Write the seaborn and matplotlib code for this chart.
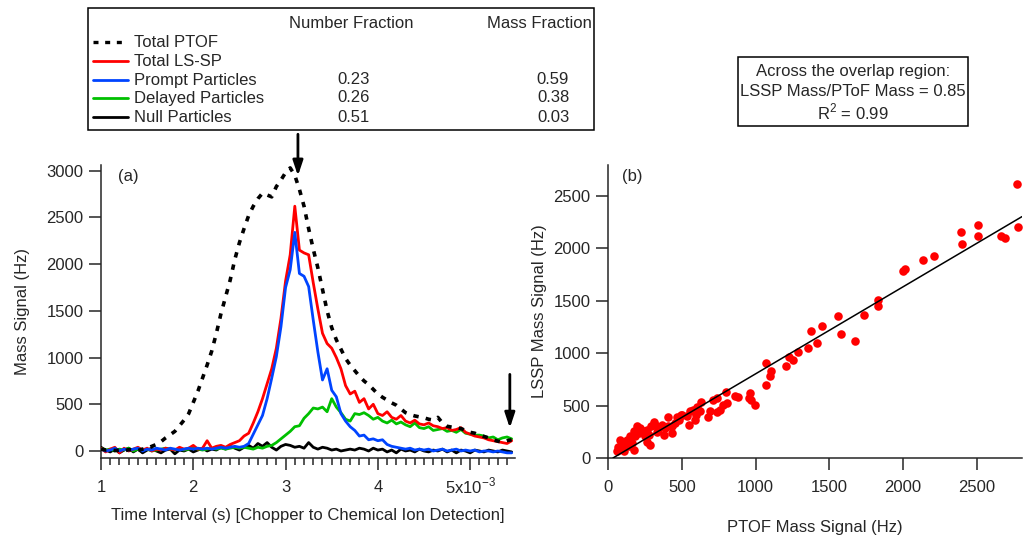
import numpy as np
import pandas as pd
import matplotlib
matplotlib.use("Agg")
import matplotlib.pyplot as plt
import matplotlib.transforms as mtransforms
from matplotlib.lines import Line2D
from matplotlib.patches import Rectangle
from matplotlib.ticker import MultipleLocator, FixedLocator, FixedFormatter
import seaborn as sns

# ---------------- data ----------------
time_ms = [round(1.0 + 0.05 * i, 2) for i in range(90)]

ptof = [20, 10, 15, 5, 10, 0, 15, 10, 5, 20,
        30, 50, 70, 100, 140, 175, 210, 270, 330, 400,
        520, 640, 780, 920, 1070, 1260, 1470, 1650, 1830, 2050,
        2230, 2380, 2520, 2620, 2700, 2760, 2740, 2720, 2830, 2900,
        2980, 3030, 2950, 2800, 2620, 2380, 2160, 1960, 1730, 1500,
        1320, 1190, 1090, 990, 920, 860, 800, 750, 710, 660,
        610, 575, 545, 515, 490, 450, 410, 390, 375, 365,
        355, 340, 330, 360, 300, 265, 255, 250, 240, 220,
        200, 190, 170, 155, 140, 120, 105, 95, 110, 120]

lssp_total = [30, -10, 20, 40, -20, 30, 0, 20, 40, 10,
              30, 0, 20, 10, 30, 20, 10, 40, 20, 30,
              60, 20, 30, 110, 30, 50, 60, 40, 70, 90,
              110, 160, 190, 300, 420, 560, 720, 880, 1100, 1420,
              1820, 2100, 2620, 2150, 2120, 2100, 1800, 1520, 1260, 1150,
              1100, 1000, 880, 700, 610, 640, 520, 560, 450, 500,
              400, 380, 420, 360, 340, 380, 320, 300, 330, 290,
              280, 300, 270, 260, 240, 250, 220, 230, 250, 200,
              180, 160, 150, 140, 120, 110, 100, 90, 80, 110]

prompt = [20, 0, 10, 30, 0, 20, 10, 20, 30, 0,
          20, 10, 30, 20, 10, 30, 20, 10, 20, 30,
          20, 30, 20, 30, 20, 30, 40, 30, 40, 50,
          40, 50, 80, 180, 280, 380, 560, 780, 1010, 1330,
          1750, 1940, 2340, 1900, 1870, 1760, 1400, 1060, 760, 880,
          650, 580, 400, 320, 260, 220, 160, 170, 120, 130,
          110, 120, 70, 50, 40, 30, 20, 30, 10, 20,
          10, 20, 0, 10, 20, 0, 10, 20, 0, 10,
          0, 10, -10, 0, 0, -10, 0, -10, -20, -20]

delayed = [30, 10, 20, 0, 20, 10, 30, 0, 20, 10,
           20, 0, 10, 20, 30, 20, 10, 20, 10, 20,
           30, 20, 10, 20, 30, 20, 30, 20, 30, 40,
           30, 40, 30, 20, 40, 30, 50, 60, 90, 130,
           170, 210, 260, 270, 350, 400, 460, 450, 470, 420,
           560, 470, 410, 340, 320, 400, 390, 410, 380, 340,
           360, 320, 300, 330, 290, 310, 280, 260, 300, 250,
           240, 260, 220, 230, 240, 210, 220, 200, 230, 190,
           180, 170, 170, 160, 140, 150, 120, 140, 150, 130]

null = [40, 10, -10, 20, -20, 10, 30, -10, 20, -20,
        10, 30, 0, -20, 10, 20, -30, 10, 0, 20,
        -10, 10, 30, 0, 20, 10, 40, 20, 50, 30,
        10, 40, 60, 30, 80, 50, 90, 40, 10, 50,
        70, 60, 40, 50, 30, 90, 40, 20, 40, 30,
        10, 20, 0, 10, 20, 10, 30, 20, 0, 30,
        10, 20, -10, 10, -20, 20, 0, 10, -10, 20,
        0, -10, 10, 0, 20, -10, 10, -20, 10, 0,
        -20, 10, 0, -10, 10, 0, -10, 10, 0, -10]

series_names = ["Total PTOF", "Total LS-SP", "Prompt Particles",
                "Delayed Particles", "Null Particles"]
number_fraction = ["", "", "0.23", "0.26", "0.51"]
mass_fraction = ["", "", "0.59", "0.38", "0.03"]

ptof_mass = [2775, 2779, 2507, 2511, 2392, 2396, 2667, 2692, 2207, 2137,
             1998, 2016, 1829, 1833, 1737, 1559, 1581, 1673, 1453, 1376,
             1417, 1354, 1291, 1255, 1228, 1209, 1074, 1106, 1101, 1072,
             998, 962, 953, 971, 883, 863, 800, 809, 782, 737,
             710, 759, 737, 692, 680, 631, 624, 601, 597, 590,
             574, 556, 534, 552, 500, 484, 493, 466, 455, 432,
             405, 410, 387, 365, 342, 320, 309, 291, 275, 264,
             245, 218, 196, 207, 185, 173, 151, 128, 117, 83,
             68, 95, 110, 162, 173, 140, 106, 61, 252, 284,
             264, 331, 378, 432]
lssp_mass = [2610, 2200, 2225, 2117, 2159, 2038, 2117, 2095, 1921, 1883,
             1787, 1806, 1508, 1451, 1359, 1349, 1181, 1117, 1263, 1213,
             1098, 1048, 1013, 937, 959, 873, 902, 825, 784, 698,
             508, 619, 571, 556, 578, 594, 625, 524, 508, 571,
             556, 460, 435, 444, 387, 533, 451, 483, 413, 365,
             460, 444, 397, 311, 413, 365, 413, 387, 333, 302,
             390, 302, 286, 317, 270, 317, 340, 302, 222, 270,
             260, 286, 302, 238, 206, 254, 206, 175, 143, 175,
             105, 95, 117, 143, 79, 111, 63, 63, 206, 127,
             149, 244, 222, 238]
fit_slope = 0.83
fit_intercept = -28.0

xtick_vals = [1e-3, 2e-3, 3e-3, 4e-3, 5e-3]
xtick_labels = ["1", "2", "3", "4", "5x10$^{-3}$"]
ytick_left = [0, 500, 1000, 1500, 2000, 2500, 3000]
xtick_right = [0, 500, 1000, 1500, 2000, 2500]
ytick_right = [0, 500, 1000, 1500, 2000, 2500]

# ---------------- style ----------------
sns.set_style("ticks")
plt.rcParams["font.family"] = ["Liberation Sans", "DejaVu Sans"]
plt.rcParams["font.size"] = 12
plt.rcParams["mathtext.fontset"] = "custom"
plt.rcParams["mathtext.rm"] = "Liberation Sans"
FS = 12

colors = ["black", "#ff0000", "#0044ff", "#00c000", "black"]
styles = [(0, (1.5, 2.0)), "-", "-", "-", "-"]
widths = [2.6, 2.0, 2.0, 2.0, 2.0]

fig = plt.figure(figsize=(10.23, 5.36), dpi=100)
axL = fig.add_axes([101 / 1023, 1 - 458 / 536, 414 / 1023, 293 / 536])
axR = fig.add_axes([608 / 1023, 1 - 458 / 536, 414 / 1023, 293 / 536])

t_s = np.array(time_ms) * 1e-3
all_series = [ptof, lssp_total, prompt, delayed, null]
draw_order = [4, 3, 1, 2, 0]
for i in draw_order:
    sns.lineplot(x=t_s, y=np.array(all_series[i]), ax=axL, color=colors[i],
                 linestyle=styles[i], linewidth=widths[i], legend=False,
                 estimator=None, zorder=4 if i == 0 else 3)

axL.set_xlim(1e-3, 5.486e-3)
axL.set_ylim(-75, 3061)
axL.xaxis.set_major_locator(FixedLocator(xtick_vals))
axL.xaxis.set_major_formatter(FixedFormatter(xtick_labels))
axL.xaxis.set_minor_locator(MultipleLocator(1e-4))
axL.yaxis.set_major_locator(FixedLocator(ytick_left))
sns.despine(ax=axL)
axL.tick_params(axis="both", which="major", length=8.5, width=1.1, direction="out", labelsize=FS)
axL.tick_params(axis="x", which="major", pad=7)
axL.tick_params(axis="y", which="major", pad=4)
axL.tick_params(axis="x", which="minor", length=5, width=1.1, direction="out")
for sp in axL.spines.values():
    sp.set_linewidth(1.1)
axL.set_xlabel("Time Interval (s) [Chopper to Chemical Ion Detection]", fontsize=FS, labelpad=9)
axL.set_ylabel("Mass Signal (Hz)", fontsize=FS, labelpad=12)
axL.text(0.04, 0.985, "(a)", transform=axL.transAxes, fontsize=FS, va="top", ha="left")

# arrows
axL.annotate("", xy=(3.134e-3, 2945), xytext=(3.134e-3, 3390),
             arrowprops=dict(arrowstyle="-|>,head_length=0.6,head_width=0.2", color="black",
                             lw=2.0, mutation_scale=15, shrinkA=0, shrinkB=0),
             annotation_clip=False)
axL.annotate("", xy=(5.43e-3, 246), xytext=(5.43e-3, 820),
             arrowprops=dict(arrowstyle="-|>,head_length=0.6,head_width=0.2", color="black",
                             lw=2.0, mutation_scale=15, shrinkA=0, shrinkB=0),
             annotation_clip=False)

# right panel
sns.scatterplot(x=ptof_mass, y=lssp_mass, ax=axR, color="#ff0000", s=38,
                edgecolor="#ff0000", linewidth=0, zorder=3)
xfit = np.array([34.0, 2806.0])
axR.plot(xfit, fit_slope * xfit + fit_intercept, color="black", lw=1.1, zorder=4)
axR.set_xlim(0, 2806)
axR.set_ylim(0, 2793)
axR.xaxis.set_major_locator(FixedLocator(xtick_right))
axR.yaxis.set_major_locator(FixedLocator(ytick_right))
sns.despine(ax=axR)
axR.tick_params(axis="both", which="major", length=8.5, width=1.1, direction="out", labelsize=FS)
axR.tick_params(axis="x", which="major", pad=7)
axR.tick_params(axis="y", which="major", pad=4)
for sp in axR.spines.values():
    sp.set_linewidth(1.1)
axR.set_xlabel("PTOF Mass Signal (Hz)", fontsize=FS, labelpad=18)
axR.set_ylabel("LSSP Mass Signal (Hz)", fontsize=FS, labelpad=5)
axR.text(0.035, 0.985, "(b)", transform=axR.transAxes, fontsize=FS, va="top", ha="left")

# ---------------- legend table (figure coords in px) ----------------
W, H = 1023.0, 536.0
def fx(px):
    return px / W
def fy(py):
    return 1 - py / H

fig.patches.append(Rectangle((fx(88), fy(130)), fx(594) - fx(88), fy(8) - fy(130),
                             transform=fig.transFigure, fill=False, edgecolor="black", lw=1.1))
fig.text(fx(351), fy(23), "Number Fraction", ha="center", va="center", fontsize=FS)
fig.text(fx(539), fy(23), "Mass Fraction", ha="center", va="center", fontsize=FS)
row_y = [42, 61, 80, 98, 117]
for i, name in enumerate(series_names):
    fig.lines.append(Line2D([fx(93), fx(128)], [fy(row_y[i]), fy(row_y[i])],
                            transform=fig.transFigure, color=colors[i],
                            linestyle=styles[i], lw=2.4 if i == 0 else 2.0))
    fig.text(fx(134), fy(row_y[i]), name, ha="left", va="center", fontsize=FS)
    if number_fraction[i]:
        fig.text(fx(354), fy(row_y[i]), number_fraction[i], ha="center", va="center", fontsize=FS)
    if mass_fraction[i]:
        fig.text(fx(553), fy(row_y[i]), mass_fraction[i], ha="center", va="center", fontsize=FS)

# ---------------- annotation box ----------------
fig.patches.append(Rectangle((fx(738), fy(126)), fx(968) - fx(738), fy(57) - fy(126),
                             transform=fig.transFigure, fill=False, edgecolor="black", lw=1.1))
fig.text(fx(853), fy(72), "Across the overlap region:", ha="center", va="center", fontsize=FS)
fig.text(fx(853), fy(91), "LSSP Mass/PToF Mass = 0.85", ha="center", va="center", fontsize=FS)
fig.text(fx(853), fy(112), "R$^2$ = 0.99", ha="center", va="center", fontsize=FS)

# lift the mathtext tick label so its baseline matches the others
fig.canvas.draw()
lab5 = axL.xaxis.get_major_ticks()[4].label1
lab5.set_transform(lab5.get_transform() +
                   mtransforms.ScaledTranslation(0, 3.0 / 72, fig.dpi_scale_trans))

fig.savefig("out.png", dpi=100)
